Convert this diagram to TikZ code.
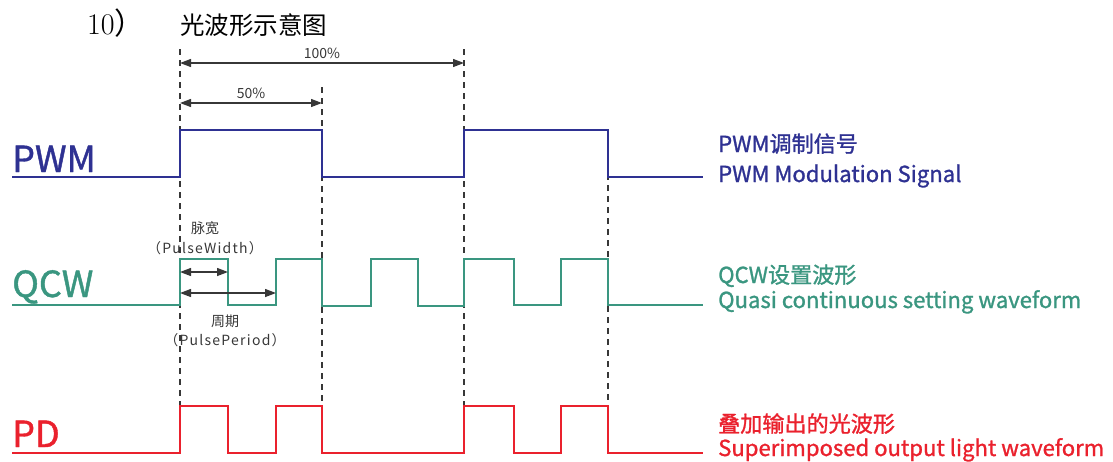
\documentclass[tikz,border=0pt]{standalone}
\usepackage{fontspec}
\newfontfamily\cjk{Noto Sans CJK SC}
\newfontfamily\cjkb[FakeBold=1.2]{Noto Sans CJK SC}
\usepackage{tikz}
\usetikzlibrary{positioning}
\usetikzlibrary{arrows.meta}
\definecolor{pwmblue}{RGB}{46,49,146}
\definecolor{qcwgreen}{RGB}{58,150,128}
\definecolor{pdred}{RGB}{234,33,45}
\definecolor{dimgray}{RGB}{55,55,55}
\tikzset{
    sigline/.style = {line width=2.8pt, line join=miter},
    pwmline/.style = {sigline, draw=pwmblue},
    qcwline/.style = {sigline, draw=qcwgreen},
    pdline/.style = {sigline, draw=pdred},
    guide/.style = {dash pattern=on 6pt off 5pt, line width=1.1pt, draw=dimgray},
    dimarrow/.style = {{Triangle[length=11pt,width=8pt]}-{Triangle[length=11pt,width=8pt]}, line width=1.3pt, draw=dimgray},
    siglabel/.style = {anchor=base west, inner sep=0pt, font=\cjkb\fontsize{36}{36}\selectfont},
    desc/.style = {anchor=base west, inner sep=0pt, font=\cjkb\fontsize{22.1}{22.1}\selectfont},
    note/.style = {inner sep=0pt, text=dimgray, font=\cjk\fontsize{14}{14}\selectfont},
    notewide/.style = {note, font=\cjk\fontsize{14}{14}\selectfont\addfontfeature{LetterSpace=9}},
}

\begin{document}
\begin{tikzpicture}[x=1pt, y=-1pt]
\useasboundingbox (0,0) rectangle (1113,461);
% title
\node[anchor=base west, inner sep=0pt, font=\fontsize{30}{30}\selectfont] (num) at (87,34) {10\cjk{）}};
\node[anchor=base west, inner sep=0pt, font=\cjk\fontsize{24.5}{24.5}\selectfont] (title) at (180,34) {光波形示意图};
%
\coordinate (g1t) at (180,49);
\coordinate (g1b) at (180,406);
\coordinate (g2t) at (322,87);
\coordinate (g2b) at (322,406);
\coordinate (g3t) at (464,49);
\coordinate (g3b) at (464,406);
\coordinate (g4t) at (608,130);
\coordinate (g4b) at (608,406);
\draw[guide] (g1t) -- (g1b);
\draw[guide] (g2t) -- (g2b);
\draw[guide] (g3t) -- (g3b);
\draw[guide] (g4t) -- (g4b);
%
\coordinate (full0) at (180,63);
\coordinate (full1) at (464,63);
\coordinate (half0) at (180,103);
\coordinate (half1) at (322,103);
\draw[dimarrow] (full0) -- node[note, above=4pt] {100\%} (full1);
\draw[dimarrow] (half0) -- node[note, above=4pt] {50\%} (half1);
%
\draw[pwmline] (12,177) -- (180,177) -- (180,130) -- (322,130) -- (322,177) -- (464,177)
    -- (464,130) -- (608,130) -- (608,177) -- (703,177);
\draw[qcwline] (12,305) -- (180,305) -- (180,259) -- (228,259) -- (228,305) -- (276,305)
    -- (276,259) -- (322,259) -- (322,306) -- (371,306) -- (371,259) -- (418,259) -- (418,306)
    -- (464,306) -- (464,259) -- (514,259) -- (514,305) -- (561,305) -- (561,259) -- (608,259)
    -- (608,305) -- (703,305);
\draw[pdline] (12,453) -- (180,453) -- (180,406) -- (228,406) -- (228,453) -- (276,453)
    -- (276,406) -- (322,406) -- (322,453) -- (464,453) -- (464,406) -- (514,406) -- (514,453)
    -- (561,453) -- (561,406) -- (608,406) -- (608,453) -- (703,453);
%
\coordinate (pw0) at (180,272);
\coordinate (pw1) at (228,272);
\coordinate (pp0) at (180,293);
\coordinate (pp1) at (276,293);
\draw[dimarrow] (pw0) -- (pw1);
\draw[dimarrow] (pp0) -- (pp1);
\node[note] (pwcn) at (205,228) {脉宽};
\node[notewide, below=6pt of pwcn] (pwen) {（PulseWidth）};
\node[note] (ppcn) at (225,321) {周期};
\node[notewide, below=6pt of ppcn] (ppen) {（PulsePeriod）};
%
\node[siglabel, text=pwmblue] (pwm) at (12,172) {PWM};
\node[siglabel, text=qcwgreen] (qcw) at (12,297) {QCW};
\node[siglabel, text=pdred] (pd) at (12,447) {PD};
%
\node[desc, text=pwmblue] (pwmcn) at (718,152) {PWM调制信号};
\node[desc, text=pwmblue] (pwmen) at (718,182) {PWM Modulation Signal};
\node[desc, text=qcwgreen] (qcwcn) at (718,283) {QCW设置波形};
\node[desc, text=qcwgreen] (qcwen) at (718,308) {Quasi continuous setting waveform};
\node[desc, text=pdred] (pdcn) at (718,432) {叠加输出的光波形};
\node[desc, text=pdred] (pden) at (718,456) {Superimposed output light waveform};
\end{tikzpicture}
\end{document}
